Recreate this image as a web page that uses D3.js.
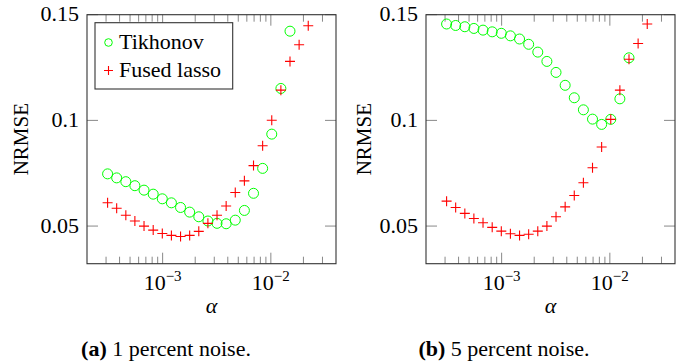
<!DOCTYPE html>
<html>
<head>
<meta charset="utf-8">
<script src="https://cdn.jsdelivr.net/npm/d3@7"></script>
<style>
  body { margin: 0; background: #fff; }
  svg text, svg tspan { font-family: 'Liberation Serif', serif !important; }
</style>
</head>
<body>
<svg class="chart"></svg>
<script>
// regularisation parameter values (shared by both panels)
var alpha = [3.10e-4, 3.76e-4, 4.57e-4, 5.54e-4, 6.73e-4, 8.18e-4, 9.93e-4,
    1.205e-3, 1.464e-3, 1.777e-3, 2.158e-3, 2.620e-3, 3.181e-3, 3.863e-3,
    4.690e-3, 5.695e-3, 6.915e-3, 8.396e-3, 1.0195e-2, 1.2379e-2, 1.503e-2,
    1.825e-2, 2.216e-2];

// 1 percent noise
var tikhonov1 = [0.0747, 0.0728, 0.0710, 0.0691, 0.0670, 0.0651, 0.0629, 0.0610,
    0.0588, 0.0566, 0.0544, 0.0524, 0.0513, 0.0511, 0.0528, 0.0574, 0.0655,
    0.0773, 0.0935, 0.1151, 0.1422];
var fused1 = [0.0610, 0.0584, 0.0551, 0.0524, 0.0500, 0.0481, 0.0465, 0.0456,
    0.0451, 0.0456, 0.0475, 0.0513, 0.0551, 0.0595, 0.0659, 0.0714, 0.0786,
    0.0880, 0.1001, 0.1143, 0.1279, 0.1358, 0.1448];

// 5 percent noise
var tikhonov5 = [0.1456, 0.1449, 0.1443, 0.1435, 0.1427, 0.1419, 0.1412, 0.1400,
    0.1385, 0.1360, 0.1323, 0.1279, 0.1227, 0.1166, 0.1107, 0.1050, 0.1006,
    0.0981, 0.1005, 0.1102, 0.1296];
var fused5 = [0.0618, 0.0588, 0.0560, 0.0536, 0.0516, 0.0494, 0.0476, 0.0464,
    0.0456, 0.0461, 0.0476, 0.0500, 0.0544, 0.0591, 0.0645, 0.0705, 0.0776,
    0.0874, 0.1005, 0.1143, 0.1289, 0.1364, 0.1456];

var yTicks = [0.05, 0.1, 0.15];
var yTickLabels = ["0.05", "0.1", "0.15"];
var xTicks = [1e-3, 1e-2];
var xTickExp = ["\u22123", "\u22122"];
var seriesNames = ["Tikhonov", "Fused lasso"];

function show() {
    'use strict';
    var W = 691, H = 363;
    var FONT = "'Liberation Serif'";
    var svg = d3.select(".chart").attr("width", W).attr("height", H)
        .attr("font-family", FONT);

    var top = 14.7, bottom = 263.7, plotW = 249;
    var panels = [
        {left: 87, tik: tikhonov1, fus: fused1, tag: "(a)", cap: " 1 percent noise.", capX: 166, legend: true, ylabX: 21},
        {left: 426, tik: tikhonov5, fus: fused5, tag: "(b)", cap: " 5 percent noise.", capX: 504, legend: false, ylabX: 364}
    ];

    function txt(sel, s) {
        var t = sel.append("text").attr("font-family", FONT).attr("fill", "#000");
        if (s !== undefined) t.append("tspan").attr("font-family", FONT).text(s);
        return t;
    }

    panels.forEach(function (p) {
        var x = d3.scaleLog().domain([2e-4, 4e-2]).range([p.left, p.left + plotW]);
        var y = d3.scaleLinear().domain([0.0322, 0.15]).range([bottom, top]);
        var g = svg.append("g");

        // minor log ticks (bottom and top)
        var minor = x.ticks().filter(function (t) {
            var e = Math.log10(t);
            return Math.abs(e - Math.round(e)) > 1e-6 && t > 2.01e-4 && t < 3.99e-2;
        });
        minor.forEach(function (t) {
            g.append("line").attr("x1", x(t)).attr("x2", x(t))
                .attr("y1", bottom).attr("y2", bottom - 7).attr("stroke", "#888");
            g.append("line").attr("x1", x(t)).attr("x2", x(t))
                .attr("y1", top).attr("y2", top + 7).attr("stroke", "#888");
        });
        xTicks.forEach(function (t, i) {
            g.append("line").attr("x1", x(t)).attr("x2", x(t))
                .attr("y1", bottom).attr("y2", bottom - 11).attr("stroke", "#888");
            g.append("line").attr("x1", x(t)).attr("x2", x(t))
                .attr("y1", top).attr("y2", top + 11).attr("stroke", "#888");
            var lab = txt(g).attr("x", x(t)).attr("y", 290)
                .attr("text-anchor", "middle").attr("font-size", 22);
            lab.append("tspan").text("10");
            lab.append("tspan").attr("dy", -9).attr("font-size", 15).text(xTickExp[i]);
        });
        yTicks.forEach(function (t, i) {
            g.append("line").attr("x1", p.left).attr("x2", p.left + 11)
                .attr("y1", y(t)).attr("y2", y(t)).attr("stroke", "#888");
            g.append("line").attr("x1", p.left + plotW).attr("x2", p.left + plotW - 11)
                .attr("y1", y(t)).attr("y2", y(t)).attr("stroke", "#888");
            txt(g, yTickLabels[i]).attr("x", p.left - 8).attr("y", y(t) + 6.5)
                .attr("text-anchor", "end").attr("font-size", 22);
        });

        // frame
        g.append("rect").attr("x", p.left).attr("y", top)
            .attr("width", plotW).attr("height", bottom - top)
            .attr("fill", "none").attr("stroke", "#333").attr("stroke-width", 1.1);

        // Tikhonov circles
        g.selectAll("circle.tik").data(p.tik).enter().append("circle")
            .attr("class", "tik")
            .attr("cx", function (d, i) { return x(alpha[i]); })
            .attr("cy", function (d) { return y(d); })
            .attr("r", 5)
            .attr("fill", "none").attr("stroke", "#00ff00").attr("stroke-width", 1);

        // fused lasso plus marks
        var s = 5;
        g.selectAll("path.fus").data(p.fus).enter().append("path")
            .attr("class", "fus")
            .attr("d", function (d, i) {
                var cx = x(alpha[i]), cy = y(d);
                return "M" + (cx - s) + "," + cy + "H" + (cx + s) +
                    "M" + cx + "," + (cy - s) + "V" + (cy + s);
            })
            .attr("stroke", "#ff0000").attr("stroke-width", 1.1).attr("fill", "none");

        // axis labels
        txt(g, "NRMSE").attr("transform", "translate(" + (p.ylabX + 7) + "," + ((top + bottom) / 2) + ") rotate(-90)")
            .attr("text-anchor", "middle").attr("font-size", 21);
        txt(g, "\u03b1").attr("x", p.left + plotW / 2).attr("y", 313)
            .attr("text-anchor", "middle").attr("font-size", 22)
            .attr("font-style", "italic");

        // caption
        var cap = txt(g).attr("x", p.capX).attr("y", 356)
            .attr("text-anchor", "middle").attr("font-size", 22);
        cap.append("tspan").attr("font-weight", "bold").text(p.tag);
        cap.append("tspan").text(p.cap);

        if (p.legend) {
            var lg = g.append("g");
            lg.append("rect").attr("x", 95).attr("y", 22.7).attr("width", 137.7).attr("height", 66.3)
                .attr("fill", "#fff").attr("stroke", "#333").attr("stroke-width", 1.1);
            lg.append("circle").attr("cx", 108.5).attr("cy", 42.5).attr("r", 3.8)
                .attr("fill", "none").attr("stroke", "#00ff00");
            lg.append("path").attr("d", "M104,70.5H113M108.5,66V75")
                .attr("stroke", "#ff0000").attr("stroke-width", 1.1);
            txt(lg, seriesNames[0]).attr("x", 119).attr("y", 49).attr("font-size", 22);
            txt(lg, seriesNames[1]).attr("x", 119).attr("y", 77).attr("font-size", 22);
        }
    });
}
show();
</script>
</body>
</html>
